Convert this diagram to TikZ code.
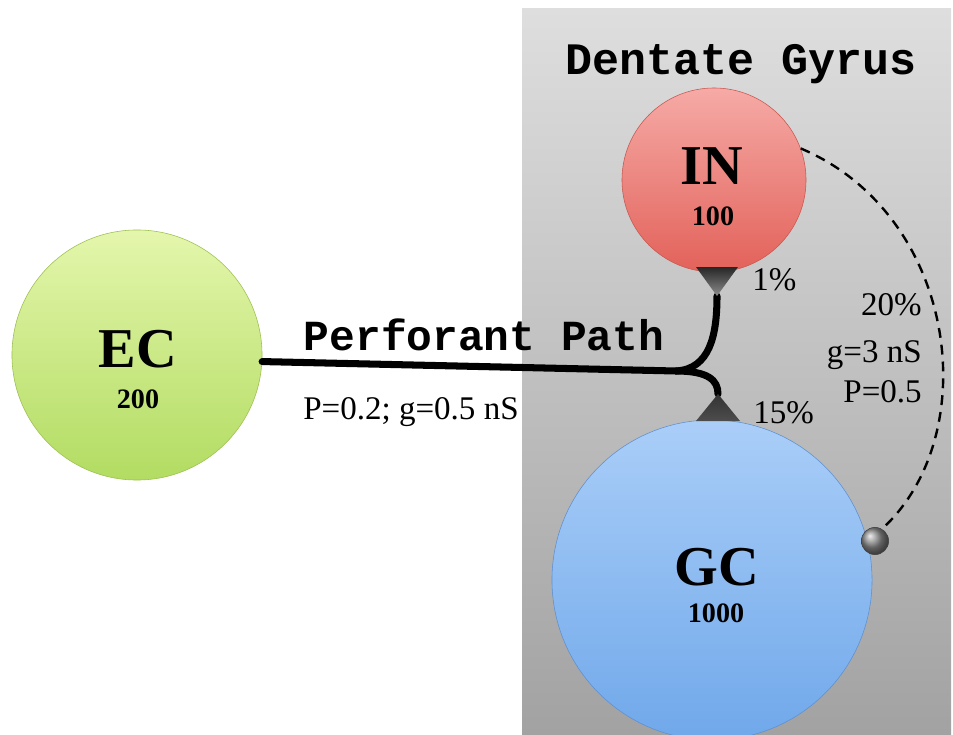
\documentclass[tikz,border=0pt]{standalone}
\usepackage{fontspec}
\setmainfont{Liberation Serif}
\newfontfamily\slabfont{Liberation Mono}
\usetikzlibrary{calc}
\definecolor{boxtop}{HTML}{DEDEDE}
\definecolor{boxbot}{HTML}{A2A2A2}
\definecolor{ectop}{HTML}{E4F6AC}
\definecolor{ecbot}{HTML}{B2DC62}
\definecolor{ecline}{HTML}{9CC050}
\definecolor{intop}{HTML}{F6AAA6}
\definecolor{inbot}{HTML}{E2625A}
\definecolor{inline}{HTML}{C85850}
\definecolor{gctop}{HTML}{AACEF8}
\definecolor{gcbot}{HTML}{70A8EA}
\definecolor{gcline}{HTML}{5E90D0}
\tikzset{
	cell/.style={circle, inner sep=0pt, line width=0.4pt},
	cellname/.style={anchor=base, font=\fontsize{40}{40}\selectfont\bfseries},
	cellsize/.style={anchor=base, font=\fontsize{20}{20}\selectfont\bfseries},
	axon/.style={line width=5pt, line cap=round},
	inhib/.style={line width=1.7pt, dash pattern=on 7pt off 5pt},
	ball/.style={circle, inner sep=0pt, minimum size=0.68cm, ball color=black!45, draw=black!75, line width=0.4pt},
	prob/.style={inner sep=0pt, font=\fontsize{23.5}{23.5}\selectfont},
	title/.style={anchor=base, font=\fontsize{32}{32}\slabfont\bfseries}
}

\begin{document}
\begin{tikzpicture}[x=0.025cm, y=-0.025cm]
			%%%%% START %%%%%
			\useasboundingbox (0,0) rectangle (953,735);
			
			\shade[top color=boxtop, bottom color=boxbot] (522,9) rectangle (951,735);
			\node[title] (dgtitle) at (741,75) {Dentate Gyrus};
			
			\node[cell, minimum size=6.25cm, top color=ectop, bottom color=ecbot, draw=ecline] (ec) at (137,355) {};
			\node[cellname] (ecname) at (138,367) {EC};
			\node[cellsize] (ecsize) at (138,408) {200};
			
			\node[cell, minimum size=4.6cm, top color=intop, bottom color=inbot, draw=inline] (in) at (714,180) {};
			\node[cellname] (inname) at (712,185) {IN};
			\node[cellsize] (insize) at (713,225) {100};
			
			\node[cell, minimum size=8cm, top color=gctop, bottom color=gcbot, draw=gcline] (gc) at (712,580) {};
			\node[cellname] (gcname) at (717,585) {GC};
			\node[cellsize] (gcsize) at (716,622) {1000};
			
			% perforant path
			\coordinate (junc) at (676,371);
			\coordinate (intip) at (717,296);
			\coordinate (gctip) at (718,394);
			\draw[axon] (ec.-3) -- (junc) .. controls (710,369) and (717,335) .. (intip);
			\draw[axon] (junc) .. controls (708,371) and (718,380) .. (gctip);
			\shade[top color=black!85, bottom color=black!45] (696,267) -- (738,267) -- (intip) -- cycle;
			\shade[top color=black!80, middle color=black!45, bottom color=black!70] (696,421) -- (740,421) -- (gctip) -- cycle;
			
			\node[title, font=\fontsize{30.5}{30.5}\slabfont\bfseries] (pptitle) at (484,350) {Perforant Path};
			\node[prob, anchor=base west] (ppprob) at (303,419) {P=0.2; g=0.5 nS};
			\node[prob, anchor=base west] (inprob) at (752,290) {1\%};
			\node[prob, anchor=base west] (gcprob) at (753,423) {15\%};
			
			% inhibition back to GC
			\node[ball] (gcball) at (875,541) {};
			\draw[inhib] (in.20) .. controls (958,215) and (985,435) .. (gcball.60);
			\node[prob, anchor=base east] (ibprob) at (922,315) {20\%};
			\node[prob, anchor=base east] (ibcond) at (922,362) {g=3 nS};
			\node[prob, anchor=base east] (ibp) at (922,402) {P=0.5};
			%%%%% END %%%%%
\end{tikzpicture}
\end{document}
